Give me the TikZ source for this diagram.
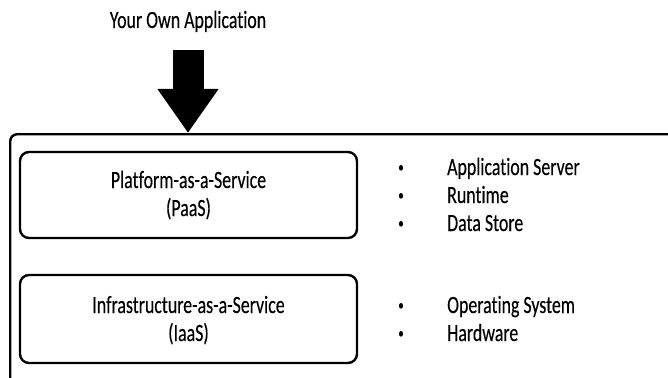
\documentclass[tikz,border=0pt]{standalone}
\usepackage{fontspec}
\setmainfont{Carlito}[FakeStretch=0.72, FakeBold=0.25, Ligatures=NoCommon]
\usetikzlibrary{arrows.meta}
\begin{document}
\begin{tikzpicture}[x=1pt,y=-1pt,
  frame/.style={draw, line width=2.4pt, rounded corners=7pt, anchor=north west,
    minimum width=720pt, minimum height=300pt, inner sep=0pt},
  layer/.style={draw, line width=2.4pt, rounded corners=9pt,
    minimum width=337pt, inner sep=0pt},
  lbl/.style={font=\fontsize{24.8}{28}\selectfont, inner sep=0pt, anchor=base},
  item/.style={lbl, anchor=base west},
  dot/.style={font=\fontsize{15}{15}\selectfont, inner sep=0pt, anchor=base},
  bigarrow/.style={line width=31pt, -{Triangle[width=58pt,length=44pt]}}
]
\useasboundingbox (0,0) rectangle (668,377);
\clip (0,0) rectangle (668,377);

% outer service frame (continues beyond the right and bottom edges)
\node[frame] (stack) at (9,133) {};

% service layers
\node[layer, minimum height=86pt] (paas) at (188.5,195) {};
\node[layer, minimum height=88pt] (iaas) at (188.5,319) {};

\node[lbl] (paasname) at (188.5,188) {Platform-as-a-Service};
\node[lbl] (paasabbr) at (188.5,216) {(PaaS)};
\node[lbl] (iaasname) at (188.5,313) {Infrastructure-as-a-Service};
\node[lbl] (iaasabbr) at (188.5,341) {(IaaS)};

% what each layer provides
\node[dot]  (b1) at (401,172) {•};
\node[item] (t1) at (447,175) {Application Server};
\node[dot]  (b2) at (401,200) {•};
\node[item] (t2) at (447,203) {Runtime};
\node[dot]  (b3) at (401,228) {•};
\node[item] (t3) at (447,231) {Data Store};
\node[dot]  (b4) at (401,310) {•};
\node[item] (t4) at (447,313) {Operating System};
\node[dot]  (b5) at (401,338) {•};
\node[item] (t5) at (447,341) {Hardware};

% the application dropped onto the stack
\node[lbl] (app) at (188,28) {Your Own Application};
\coordinate (arrowtop) at (188,50);
\draw[bigarrow] (arrowtop) -- (arrowtop |- stack.north);
\end{tikzpicture}
\end{document}
